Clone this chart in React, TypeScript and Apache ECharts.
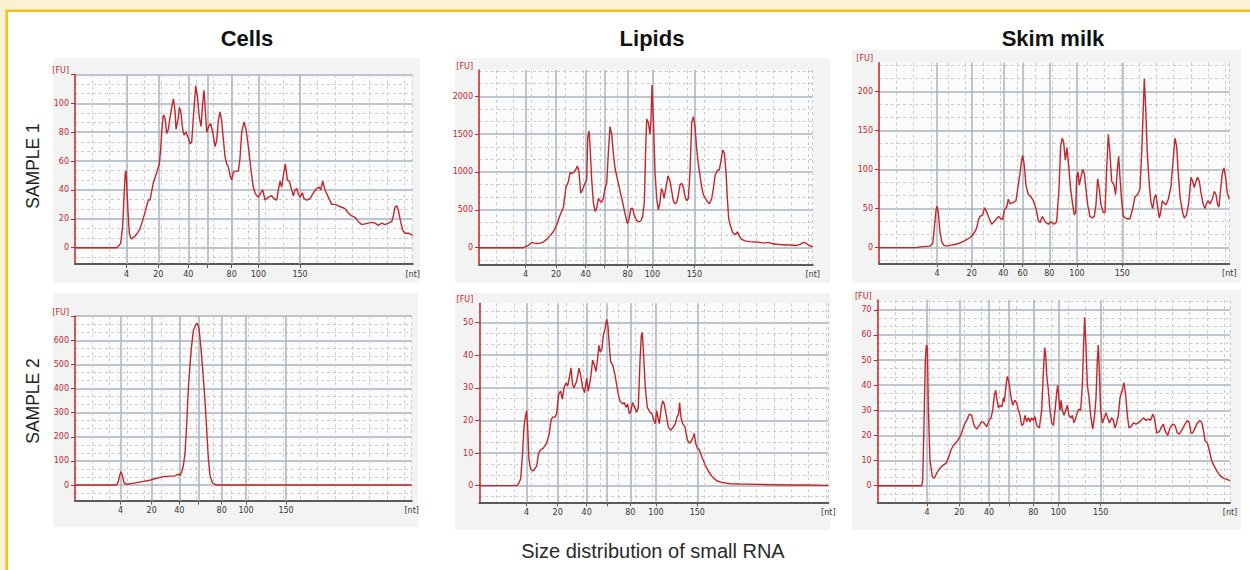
import React, { useEffect, useRef } from "react";
import * as echarts from "echarts";

// ---------- DATA (x = scan position along the run, y = fluorescence [FU]) ----------
const sizeLabelsWith60 = ["4", "20", "40", "60", "80", "100", "150"];
const sizeLabelsNo60 = ["4", "20", "40", "", "80", "100", "150"];

const cellsS1Marks = [155, 250, 340, 398, 470, 550, 675];
const lipidsS1Marks = [140, 231, 320, 376, 446, 520, 646];
const skimS1Marks = [174, 278, 373, 431, 511, 594, 730];
const cellsS2Marks = [137, 230, 313, 370, 440, 513, 633];
const lipidsS2Marks = [142, 235, 322, 383, 453, 530, 654];
const skimS2Marks = [148, 245, 334, 394, 467, 542, 669];

const cellsS1YLabels = [0, 20, 40, 60, 80, 100];
const cellsS1YTicks = [0, 20, 40, 60, 80, 100, 120];
const lipidsS1YLabels = [0, 500, 1000, 1500, 2000];
const skimS1YLabels = [0, 50, 100, 150, 200];
const cellsS2YLabels = [0, 100, 200, 300, 400, 500, 600];
const cellsS2YTicks = [0, 100, 200, 300, 400, 500, 600, 700];
const lipidsS2YLabels = [0, 10, 20, 30, 40, 50];
const skimS2YLabels = [0, 10, 20, 30, 40, 50, 60, 70];

const cellsSample1 = [[0,0],[125,0],[130,1],[137,3],[143,15],[147,35],[151,52],[153,53],[155,45],[159,25],[163,10],[167,7],[170,6],[180,8],[187,10],[195,13],[207,22],[220,33],[225,33],[235,45],[245,52],[253,58],[257,68],[260,80],[265,92],[270,90],[275,79],[280,82],[285,90],[290,97],[295,103],[300,95],[303,82],[310,90],[313,97],[317,95],[323,82],[327,78],[333,80],[340,76],[345,72],[350,73],[355,90],[362,112],[367,105],[373,90],[378,84],[383,100],[387,109],[391,95],[395,80],[401,84],[407,86],[413,80],[420,70],[425,74],[430,88],[435,94],[440,88],[445,75],[450,63],[455,58],[460,56],[465,50],[470,47],[475,52],[480,53],[490,53],[495,62],[500,80],[507,87],[513,82],[520,70],[525,60],[530,50],[535,42],[540,38],[545,36],[550,35],[557,38],[563,40],[570,33],[580,35],[590,36],[597,34],[605,33],[610,40],[615,46],[620,42],[625,50],[631,58],[637,47],[643,46],[650,40],[655,36],[660,40],[665,41],[670,37],[675,35],[682,38],[687,34],[695,33],[705,34],[715,38],[725,41],[733,42],[737,40],[743,46],[750,40],[760,35],[770,30],[780,30],[790,29],[800,28],[810,27],[820,24],[830,22],[840,21],[850,18],[860,16],[870,16.5],[880,17],[890,17.5],[900,17],[910,15.5],[920,17],[930,16],[940,17],[950,18],[955,22],[960,28],[965,29],[970,26],[975,20],[983,12],[990,10],[1000,10],[1013,8.5]];

const lipidsSample1 = [[0,0],[133,0],[138,10],[148,30],[158,70],[165,60],[173,55],[183,60],[193,75],[203,110],[213,160],[223,210],[233,300],[243,430],[253,530],[261,800],[268,870],[273,990],[279,980],[285,1000],[290,1030],[295,1080],[300,1000],[305,720],[311,770],[318,850],[323,900],[326,1450],[330,1540],[333,1350],[338,900],[343,600],[348,480],[353,520],[358,650],[363,620],[368,600],[373,650],[378,780],[383,850],[388,1250],[393,1600],[398,1500],[403,1250],[408,1050],[413,950],[423,750],[431,600],[438,450],[445,320],[450,380],[456,520],[461,520],[466,420],[473,360],[480,340],[486,360],[491,420],[496,600],[500,1300],[503,1700],[508,1650],[513,1500],[516,1700],[519,2150],[523,1700],[528,1000],[533,650],[538,500],[543,600],[547,780],[551,750],[555,650],[561,800],[567,950],[573,880],[578,750],[583,620],[588,580],[593,600],[598,700],[603,830],[608,850],[613,800],[618,680],[623,620],[628,650],[633,1000],[638,1650],[643,1730],[648,1600],[653,1300],[658,1100],[663,950],[668,800],[673,700],[683,620],[691,580],[698,650],[703,780],[708,950],[715,1020],[721,1030],[726,1150],[731,1290],[736,1250],[741,1000],[745,650],[749,380],[755,280],[761,200],[768,170],[775,210],[780,160],[788,110],[798,90],[813,80],[828,75],[843,70],[853,60],[868,70],[878,55],[893,45],[913,40],[933,35],[953,30],[963,45],[973,70],[981,60],[988,35],[1001,10]];

const skimSample1 = [[0,0],[113,0],[123,1],[153,2],[161,5],[166,25],[171,48],[174,53],[178,45],[183,20],[188,8],[195,3],[203,2],[213,3],[228,4],[243,6],[258,9],[273,13],[283,17],[293,25],[298,35],[303,40],[311,42],[317,51],[323,46],[330,38],[338,30],[345,33],[353,37],[359,40],[366,37],[371,36],[376,48],[383,52],[388,62],[393,56],[403,58],[411,60],[416,75],[423,95],[428,112],[431,118],[436,105],[441,80],[448,68],[456,65],[463,60],[471,50],[478,35],[483,32],[490,40],[495,36],[501,32],[508,30],[516,33],[525,30],[533,33],[540,75],[545,130],[550,140],[554,135],[559,112],[564,128],[569,105],[575,75],[581,55],[586,42],[590,45],[593,90],[597,97],[601,80],[605,88],[611,100],[616,95],[621,75],[626,55],[633,40],[640,38],[646,40],[651,55],[656,88],[661,75],[666,55],[673,45],[678,45],[683,100],[688,145],[693,120],[698,85],[705,80],[710,68],[715,100],[719,117],[723,90],[728,60],[733,40],[743,37],[753,37],[761,50],[768,65],[776,68],[783,75],[789,130],[793,180],[796,216],[800,180],[805,120],[811,80],[816,58],[821,50],[827,65],[831,68],[835,55],[841,38],[845,45],[850,60],[855,57],[861,55],[868,62],[876,78],[883,115],[888,140],[893,130],[898,95],[903,65],[911,45],[916,38],[923,42],[930,60],[936,90],[941,85],[946,77],[951,85],[956,90],[961,85],[966,70],[973,55],[978,50],[983,57],[988,60],[993,56],[1000,62],[1006,72],[1011,68],[1016,55],[1020,52],[1025,75],[1030,95],[1035,102],[1040,90],[1045,70],[1051,62]];

const cellsSample2 = [[0,0],[125,0],[130,15],[135,45],[138,55],[142,40],[147,10],[153,3],[165,5],[185,10],[205,15],[225,20],[245,28],[265,35],[285,37],[300,38],[310,45],[315,40],[320,55],[325,80],[330,130],[335,250],[340,400],[345,500],[350,580],[355,640],[362,665],[367,670],[372,650],[377,580],[383,480],[390,350],[395,230],[400,110],[405,40],[412,10],[420,2],[425,0],[1010,0]];

const lipidsSample2 = [[0,0],[112,0],[117,0.5],[124,2],[130,10],[134,18],[138,21],[142,23],[145,18],[149,8],[154,5],[162,4.5],[172,6],[178,10],[184,11],[192,11.5],[202,13],[210,16],[215,20],[220,21],[227,21],[232,22],[238,28],[244,29],[249,26.5],[254,30],[260,31.5],[265,30.5],[270,33],[275,36],[280,31],[284,30],[292,32],[299,36],[304,34],[310,30],[316,28.5],[322,33],[327,29],[334,33],[340,38.5],[345,37],[350,35],[354,38],[359,43],[363,41],[368,42],[372,46],[377,48],[382,51],[386,49],[390,43],[394,38],[400,37],[407,34],[412,31],[417,28],[422,26],[430,25],[435,25.5],[440,24],[445,25],[450,22],[455,23],[460,25.5],[466,24],[472,22.5],[477,24],[482,38],[486,46],[489,47],[493,40],[498,30],[504,24],[512,22.5],[518,22],[524,20],[528,19],[532,23],[536,21],[540,19],[546,24],[550,26],[555,25],[560,22],[567,18],[574,17],[582,18],[588,19],[593,21],[598,22],[601,25.5],[605,21],[610,19],[617,18],[624,14],[630,13],[635,13.5],[642,15],[645,16],[649,13],[654,11.5],[660,11],[667,9],[677,6.5],[687,4.5],[697,3],[712,1.5],[727,1],[752,0.6],[782,0.5],[832,0.4],[882,0.3],[932,0.2],[982,0.2],[1047,0.1]];

const skimSample2 = [[0,0],[132,0],[135,2],[139,25],[143,50],[146,56],[149,55],[152,30],[157,10],[164,3.5],[170,3],[177,5],[187,7],[195,8],[205,9],[212,11],[219,14],[227,16],[237,17.5],[245,19],[252,21],[259,24],[267,26],[275,28.5],[282,28],[289,24],[297,22.5],[305,24],[312,25.5],[319,25],[327,23.5],[334,26],[340,27],[345,30],[350,36],[354,38],[357,35],[362,31],[367,32],[373,31.5],[377,35],[380,33.5],[385,40],[389,43.5],[394,41],[399,36],[405,32],[412,34],[417,33],[422,30],[427,28],[432,24],[437,24.5],[442,28],[447,25.5],[452,27],[457,25.5],[462,27],[467,26],[472,27.5],[477,24],[485,23],[492,30],[497,45],[501,55],[504,52],[507,44],[512,38],[517,30],[522,25],[527,24],[532,30],[537,37],[540,40],[543,36],[547,30],[550,34],[554,30],[559,28],[564,30],[569,32],[574,28],[579,27],[584,28],[589,25],[594,27],[599,29],[604,30.5],[609,30],[614,40],[618,57],[621,67],[625,55],[629,40],[634,35],[639,28],[645,22.5],[650,27],[655,35],[659,50],[662,56],[665,45],[669,30],[674,25],[680,27],[685,29],[690,27],[695,25],[702,27],[707,26],[712,23],[717,25],[722,28],[727,35],[734,38],[739,41],[744,36],[749,28],[754,23],[760,23.5],[767,25],[775,24.5],[782,25],[790,26],[797,27],[805,26],[812,26.5],[819,26],[825,28.5],[830,27],[837,21],[845,21.5],[852,23.5],[857,24.5],[862,22],[870,20],[877,23],[885,24.5],[892,24],[899,21],[905,20.5],[912,22],[922,24.5],[929,26],[935,25],[940,21],[945,21],[952,23],[959,25],[967,26],[973,25],[977,22],[982,18],[989,17],[995,14],[1002,10],[1009,8],[1017,6],[1027,4],[1037,3],[1047,2.5],[1057,2]];

const columnTitles = ["Cells", "Lipids", "Skim milk"];
const rowTitles = ["SAMPLE 1", "SAMPLE 2"];
const caption = "Size distribution of small RNA";

// ---------- LAYOUT / STYLE ----------
const FONT = "'Liberation Sans', Arial, sans-serif";
const SMALL = "'DejaVu Sans', Tahoma, sans-serif";
const RED = "#c0272d";
const MAJOR = "#a9b3c1";
const MINOR = "#cbcbcb";

type Panel = {
  data: number[][];
  marks: number[];
  labels: string[];
  xMax: number;
  yMin: number;
  yMax: number;
  step: number;
  yLabels: number[];
  yTicks: number[];
  grid: { left: number; top: number; width: number; height: number };
  box: number[];
};

const panels: Panel[] = [
  { data: cellsSample1, marks: cellsS1Marks, labels: sizeLabelsNo60, xMax: 1013, yMin: -11.3, yMax: 120, step: 20, yLabels: cellsS1YLabels, yTicks: cellsS1YTicks, grid: { left: 75, top: 74.4, width: 337.7, height: 189.6 }, box: [53, 58, 367, 225] },
  { data: lipidsSample1, marks: lipidsS1Marks, labels: sizeLabelsNo60, xMax: 1001, yMin: -219, yMax: 2347, step: 500, yLabels: lipidsS1YLabels, yTicks: lipidsS1YLabels, grid: { left: 479, top: 70, width: 333.7, height: 194.3 }, box: [455, 58, 375, 225] },
  { data: skimSample1, marks: skimS1Marks, labels: sizeLabelsWith60, xMax: 1051, yMin: -20, yMax: 236.6, step: 50, yLabels: skimS1YLabels, yTicks: skimS1YLabels, grid: { left: 879, top: 62.7, width: 350.3, height: 200.6 }, box: [852, 50, 389, 233] },
  { data: cellsSample2, marks: cellsS2Marks, labels: sizeLabelsNo60, xMax: 1010, yMin: -65, yMax: 700, step: 100, yLabels: cellsS2YLabels, yTicks: cellsS2YTicks, grid: { left: 75, top: 316.2, width: 336.7, height: 184.5 }, box: [53, 293, 365, 234] },
  { data: lipidsSample2, marks: lipidsS2Marks, labels: sizeLabelsNo60, xMax: 1047, yMin: -5.1, yMax: 55.9, step: 10, yLabels: lipidsS2YLabels, yTicks: lipidsS2YLabels, grid: { left: 479.3, top: 303.3, width: 349, height: 199 }, box: [455, 293, 375, 237] },
  { data: skimSample2, marks: skimS2Marks, labels: sizeLabelsNo60, xMax: 1057, yMin: -6.6, yMax: 73.9, step: 10, yLabels: skimS2YLabels, yTicks: skimS2YLabels, grid: { left: 877.7, top: 300, width: 352.3, height: 202.3 }, box: [852, 290, 389, 240] },
];

function buildOption() {
  const grid: any[] = [];
  const xAxis: any[] = [];
  const yAxis: any[] = [];
  const series: any[] = [];
  const graphic: any[] = [];

  graphic.push(
    { type: "rect", z: -30, shape: { x: 0, y: 0, width: 1250, height: 10 }, style: { fill: "#fdf0d3" } },
    { type: "rect", z: -30, shape: { x: 0, y: 0, width: 6, height: 570 }, style: { fill: "#fdf0d3" } },
    { type: "rect", z: -29, shape: { x: 6, y: 9.5, width: 1244, height: 2.5 }, style: { fill: "#f5c01a" } },
    { type: "rect", z: -29, shape: { x: 5.5, y: 9.5, width: 2.5, height: 560.5 }, style: { fill: "#f5c01a" } }
  );

  panels.forEach((p, i) => {
    graphic.push({ type: "rect", z: -25, shape: { x: p.box[0], y: p.box[1], width: p.box[2], height: p.box[3] }, style: { fill: "#f3f3f3" } });
    grid.push({ ...p.grid, show: true, backgroundColor: "#fbfbfb", borderWidth: 0, containLabel: false, outerBoundsMode: "none" });

    const labelOf = (v: number) => {
      const k = p.marks.indexOf(v);
      return k >= 0 ? p.labels[k] : "";
    };

    xAxis.push({
      gridIndex: i, type: "value", min: 0, max: p.xMax, position: "bottom",
      axisLine: { show: true, onZero: false, lineStyle: { color: "#5a5a5a", width: 2 } },
      axisTick: { show: true, length: 4, customValues: p.marks, lineStyle: { color: "#5a5a5a", width: 1 } },
      axisLabel: { show: true, customValues: p.marks, formatter: labelOf, color: "#333", fontSize: 8, fontFamily: SMALL, margin: 6 },
      splitLine: { show: false },
      name: "[nt]", nameLocation: "end", nameGap: 0,
      nameTextStyle: { align: "center", verticalAlign: "top", padding: [6, 0, 0, 0], color: "#333", fontSize: 8, fontFamily: SMALL },
    });
    xAxis.push({
      gridIndex: i, type: "value", min: 0, max: p.xMax, position: "top", minInterval: 52, maxInterval: 52,
      axisLine: { show: false }, axisTick: { show: false }, axisLabel: { show: false },
      splitLine: { show: true, lineStyle: { color: MINOR, width: 1, type: [3, 3] } },
    });
    yAxis.push({
      gridIndex: i, type: "value", min: p.yMin, max: p.yMax, minInterval: p.step, maxInterval: p.step,
      axisLine: { show: true, onZero: false, lineStyle: { color: RED, width: 1.5 } },
      axisTick: { show: true, length: 4, customValues: p.yTicks, lineStyle: { color: RED, width: 1 } },
      axisLabel: { show: true, customValues: p.yLabels, formatter: (v: number) => String(Math.round(v)), color: RED, fontSize: 8, fontFamily: SMALL, margin: 6 },
      splitLine: { show: true, lineStyle: { color: MAJOR, width: 1.5 } },
      minorTick: { show: false, splitNumber: 3 },
      minorSplitLine: { show: true, lineStyle: { color: MINOR, width: 1, type: [3, 3] } },
      name: "[FU]", nameLocation: "end", nameGap: 4,
      nameTextStyle: { align: "right", verticalAlign: "middle", padding: [0, 6, 0, 0], color: RED, fontSize: 8, fontFamily: SMALL },
    });
    series.push({
      type: "line", xAxisIndex: 2 * i, yAxisIndex: i, data: p.data,
      showSymbol: false, symbol: "none", silent: true,
      lineStyle: { color: RED, width: 1.4 },
      markLine: {
        z: 1, silent: true, symbol: ["none", "none"], label: { show: false },
        lineStyle: { color: MAJOR, width: 1.5, type: "solid" },
        emphasis: { disabled: true },
        data: p.marks.map((m) => ({ xAxis: m })),
      },
    });
  });

  const titleX = [247, 652, 1053];
  columnTitles.forEach((t, k) => {
    graphic.push({ type: "text", x: titleX[k], y: 38, style: { text: t, fill: "#111", font: `bold 22px ${FONT}`, textAlign: "center", textVerticalAlign: "middle" } });
  });
  const rowY = [166, 401];
  rowTitles.forEach((t, k) => {
    graphic.push({ type: "text", x: 33, y: rowY[k], rotation: Math.PI / 2, style: { text: t, fill: "#222", font: `17.5px ${FONT}`, textAlign: "center", textVerticalAlign: "middle" } });
  });
  graphic.push({ type: "text", x: 653, y: 551, style: { text: caption, fill: "#2a2a2a", font: `20px ${FONT}`, textAlign: "center", textVerticalAlign: "middle" } });

  return { animation: false, backgroundColor: "#ffffff", grid, xAxis, yAxis, series, graphic };
}

export default function App() {
  const ref = useRef<HTMLDivElement>(null);
  useEffect(() => {
    if (!ref.current) return;
    const chart = echarts.init(ref.current, undefined, { renderer: "svg" });
    chart.setOption(buildOption() as any);
    return () => chart.dispose();
  }, []);
  return <div ref={ref} style={{ position: "absolute", left: 0, top: 0, width: 1250, height: 570 }} />;
}
